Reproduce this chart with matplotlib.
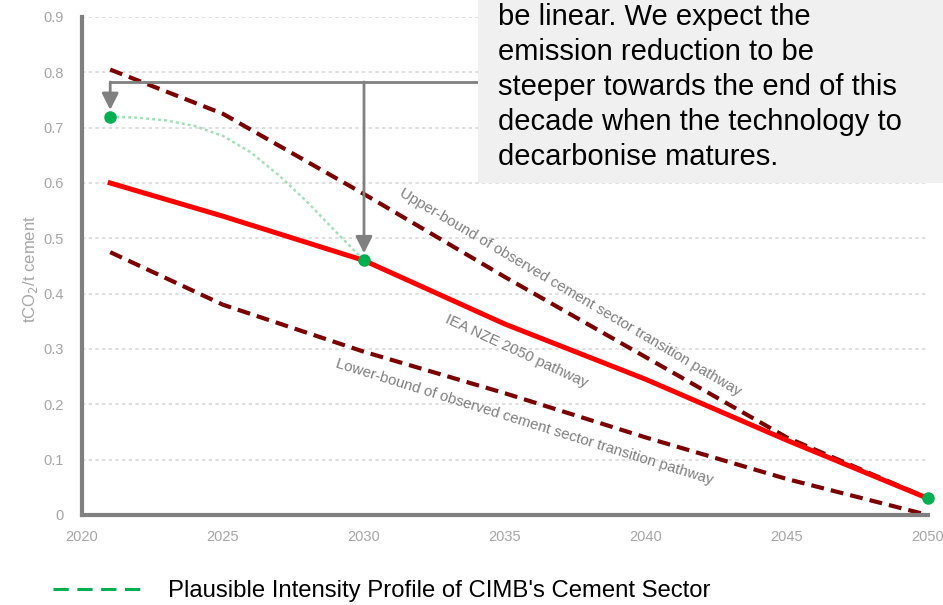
import numpy as np
import matplotlib
matplotlib.use('Agg')
import matplotlib.pyplot as plt
from matplotlib.patches import Rectangle

plt.rcParams['font.family'] = ['Liberation Sans', 'DejaVu Sans']

# --- data ---
years = [2021, 2025, 2030, 2035, 2040, 2045, 2050]
upper_bound = [0.805, 0.725, 0.58, 0.43, 0.285, 0.14, 0.03]
iea_nze = [0.60, 0.54, 0.46, 0.345, 0.245, 0.135, 0.03]
lower_bound = [0.475, 0.38, 0.295, 0.22, 0.14, 0.065, 0.0]

cimb_curve_years = [2021, 2022, 2023, 2024, 2025, 2026, 2027, 2028, 2029, 2030]
cimb_curve = [0.72, 0.718, 0.713, 0.703, 0.685, 0.655, 0.613, 0.565, 0.512, 0.46]
cimb_point_years = [2021, 2030, 2050]
cimb_points = [0.72, 0.46, 0.03]

y_ticks = [0, 0.1, 0.2, 0.3, 0.4, 0.5, 0.6, 0.7, 0.8, 0.9]
y_tick_labels = ['0', '0.1', '0.2', '0.3', '0.4', '0.5', '0.6', '0.7', '0.8', '0.9']
x_ticks = [2020, 2025, 2030, 2035, 2040, 2045, 2050]

note_lines = ["be linear. We expect the",
              "emission reduction to be",
              "steeper towards the end of this",
              "decade when the technology to",
              "decarbonise matures."]

DARK_RED = '#7b0000'
GREEN = '#00b050'
GREY = '#808080'
TICK_GREY = '#a6a6a6'

fig = plt.figure(figsize=(9.43, 6.05), dpi=100)
ax = fig.add_axes([82 / 943, 90 / 605, 846 / 943, 498 / 605])

ax.set_xlim(2020, 2050)
ax.set_ylim(0, 0.9)
ax.grid(axis='y', color='#d9d9d9', linestyle=(0, (2, 2)), linewidth=1.2)
ax.set_axisbelow(True)

dash = (0, (3.1, 1.7))
ax.plot(years, upper_bound, color=DARK_RED, linewidth=3, linestyle=dash)
ax.plot(years, lower_bound, color=DARK_RED, linewidth=3, linestyle=dash)
ax.plot(years, iea_nze, color='#ff0000', linewidth=3.6, zorder=3)
ax.plot(cimb_curve_years, cimb_curve, color='#a3dfb8', linewidth=1.8,
        linestyle=(0, (1.2, 1.2)), zorder=4)
ax.plot(cimb_point_years, cimb_points, linestyle='none', marker='o',
        markersize=8, color=GREEN, zorder=5, clip_on=False)

# rotated line labels
lab_kw = dict(color='#7f7f7f', fontsize=10.8, rotation_mode='anchor',
              ha='center', va='center')
ax.text(2037.3, 0.403, 'Upper-bound of observed cement sector transition pathway',
        rotation=-30.6, **lab_kw)
ax.text(2035.4, 0.296, 'IEA NZE 2050 pathway', rotation=-24.8, **lab_kw)
ax.text(2035.7, 0.168, 'Lower-bound of observed cement sector transition pathway',
        rotation=-17.3, **lab_kw)

for side in ['top', 'right']:
    ax.spines[side].set_visible(False)
for side in ['left', 'bottom']:
    ax.spines[side].set_color(GREY)
    ax.spines[side].set_linewidth(3)

ax.set_yticks(y_ticks)
ax.set_yticklabels(y_tick_labels)
ax.set_xticks(x_ticks)
ax.tick_params(length=0, colors=TICK_GREY, labelsize=10.5)
ax.tick_params(axis='y', pad=13)
ax.tick_params(axis='x', pad=11)
ax.set_ylabel('tCO$_2$/t cement', color=TICK_GREY, fontsize=12)
ax.yaxis.set_label_coords(-0.05, 0.494)

# callout arrows towards the CIMB points
arrow_kw = dict(arrowstyle='-|>', color=GREY, lw=2, mutation_scale=25,
                shrinkA=0, shrinkB=0)
ax.annotate('', xy=(2021, 0.732), xytext=(2021, 0.7826), arrowprops=arrow_kw)
ax.annotate('', xy=(2030, 0.473), xytext=(2030, 0.7826), arrowprops=arrow_kw)
ax.plot([2021, 2034.2], [0.7826, 0.7826], color=GREY, linewidth=2, zorder=2,
        solid_capstyle='butt')

# grey note box (partly cut at the top)
fig.patches.append(Rectangle((478 / 943, 422 / 605), 465 / 943, 183 / 605,
                             transform=fig.transFigure, facecolor='#f0f0f0',
                             edgecolor='none', zorder=6))
for i, line in enumerate(note_lines):
    fig.text(498 / 943, 1 - (25 + 35 * i) / 605, line, fontsize=21,
             va='baseline', ha='left', zorder=7)

# legend
fig.add_artist(plt.Line2D([53 / 943, 148 / 943], [16 / 605, 16 / 605],
                          color=GREEN, linewidth=2.2, linestyle=(0, (5, 2.8))))
fig.text(168 / 943, 14 / 605, "Plausible Intensity Profile of CIMB's Cement Sector",
         fontsize=17.2, va='center', ha='left')

fig.savefig('out.png', dpi=100)
